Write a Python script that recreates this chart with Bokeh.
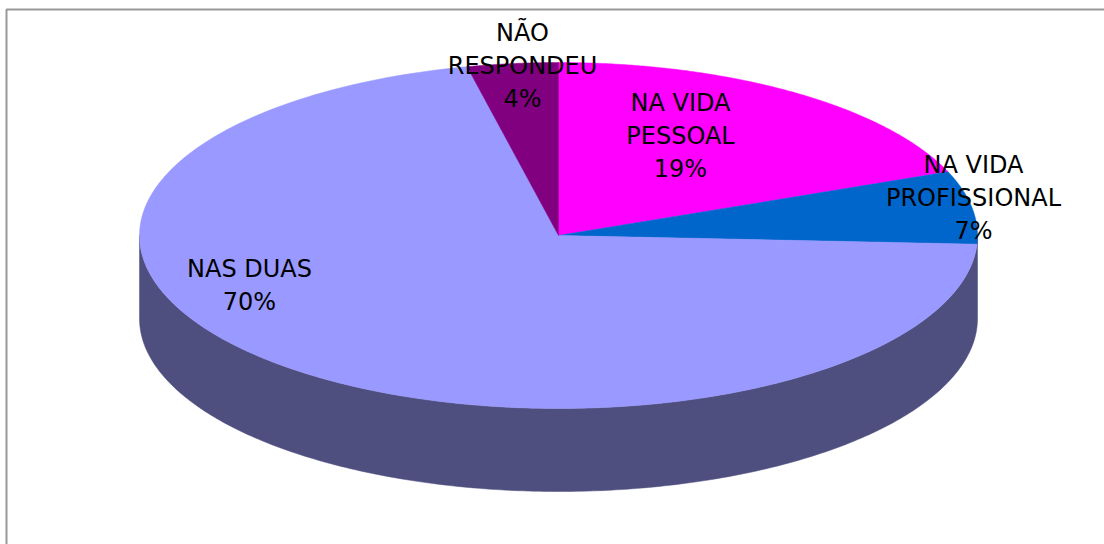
import numpy as np
from bokeh.plotting import figure
from bokeh.models import Range1d
from bokeh.core.properties import value
from bokeh.embed import file_html
from bokeh.resources import INLINE

# Data
categories = ["NA VIDA PESSOAL", "NA VIDA PROFISSIONAL", "NAS DUAS", "NÃO RESPONDEU"]
values = [19, 6.8, 70.7, 3.5]
label_lines = [["NA VIDA", "PESSOAL", "19%"],
               ["NA VIDA", "PROFISSIONAL", "7%"],
               ["NAS DUAS", "70%"],
               ["NÃO", "RESPONDEU", "4%"]]
colors = ["#FF00FF", "#0066CC", "#9999FF", "#800080"]
side_color = "#4F4F7F"

# Layout (pixels of the page)
W, H = 1104, 544
CX, CY, RX, RY, DEPTH = 558, 235, 419, 173, 83
label_centres = [(680, 135), (973, 197), (249, 285), (522, 65)]
LINE_STEP = 33
FONT = "DejaVu Sans"
FONT_SIZE = "24px"

p = figure(width=W, height=H, output_backend="svg", toolbar_location=None,
           x_range=Range1d(0, W), y_range=Range1d(H, 0), min_border=0,
           outline_line_color=None, background_fill_color="white",
           border_fill_color="white",
           styles={"position": "absolute", "left": "0px", "top": "0px"})
p.axis.visible = False
p.grid.visible = False

# frame
p.line([6, 6, W], [H, 9, 9], line_color="#999999", line_width=2)

# side wall: lower half of the rim, pushed down by the depth
t = np.linspace(np.pi / 2, 3 * np.pi / 2, 240)
rim_x = CX + RX * np.sin(t)
rim_y = CY - RY * np.cos(t)
p.patch(np.r_[rim_x, rim_x[::-1]], np.r_[rim_y, rim_y[::-1] + DEPTH],
        fill_color=side_color, line_color=side_color, line_width=0.5)

# top slices
total = sum(values)
start = 0.0
for v, c in zip(values, colors):
    end = start + v / total * 2 * np.pi
    a = np.linspace(start, end, 200)
    xs = np.r_[CX, CX + RX * np.sin(a)]
    ys = np.r_[CY, CY - RY * np.cos(a)]
    p.patch(xs, ys, fill_color=c, line_color=c, line_width=0.5)
    start = end

# labels
for lines, (lx, ly) in zip(label_lines, label_centres):
    n = len(lines)
    xs = [lx] * n
    ys = [ly + (i - (n - 1) / 2) * LINE_STEP for i in range(n)]
    p.text(xs, ys, text=lines, text_align="center", text_baseline="middle",
           text_color="black", text_font=value(FONT), text_font_size=FONT_SIZE)

open("out.html", "w").write(file_html(p, INLINE))
